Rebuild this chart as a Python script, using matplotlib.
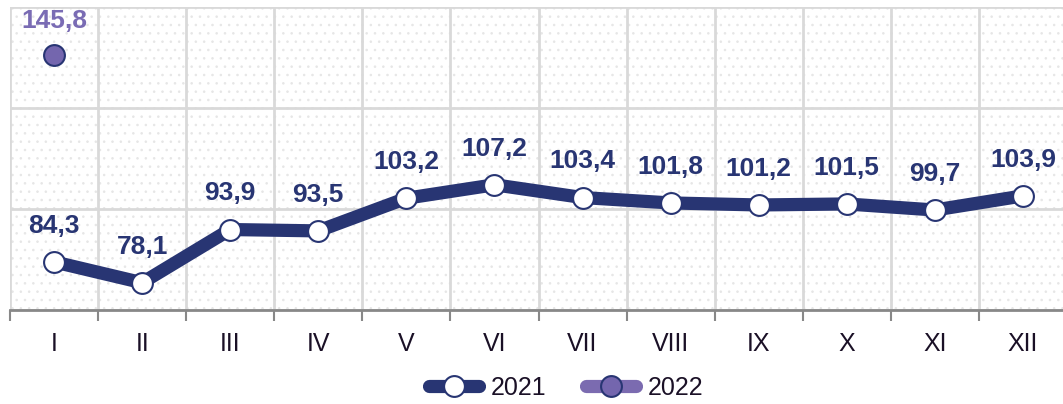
import matplotlib
matplotlib.use("Agg")
import matplotlib.pyplot as plt
from matplotlib.patches import Rectangle
from matplotlib.lines import Line2D
import numpy as np

months = ["I", "II", "III", "IV", "V", "VI", "VII", "VIII", "IX", "X", "XI", "XII"]
values_2021 = [84.3, 78.1, 93.9, 93.5, 103.2, 107.2, 103.4, 101.8, 101.2, 101.5, 99.7, 103.9]
months_2022 = ["I"]
values_2022 = [145.8]
labels_2021 = ["84,3", "78,1", "93,9", "93,5", "103,2", "107,2", "103,4", "101,8", "101,2", "101,5", "99,7", "103,9"]
labels_2022 = ["145,8"]

navy = "#283573"
purple_line = "#7B6BB0"
purple_fill = "#7466AE"
purple_text = "#7A6CB4"

plt.rcParams['font.family'] = ['Liberation Sans', 'DejaVu Sans']
plt.rcParams['hatch.linewidth'] = 0.6

W, H = 1063, 404
fig = plt.figure(figsize=(W / 100, H / 100), dpi=100)
ax = fig.add_axes([10 / W, (H - 310) / H, 1057 / W, 303 / H])

x = np.arange(len(months))
x22 = [months.index(m) for m in months_2022]

ax.set_xlim(-0.5, len(months) - 0.5)
ax.set_ylim(70, 160)

# dotted background
bg = Rectangle((0, 0), 1, 1, transform=ax.transAxes, facecolor="white",
               edgecolor="#e6e6e6", hatch="..", linewidth=0, zorder=0)
ax.add_patch(bg)

ax.set_yticks([70, 100, 130, 160])
ax.set_yticklabels([])
ax.tick_params(axis="y", length=0)
ax.grid(axis="y", color="#d9d9d9", linewidth=2, zorder=1)

ax.set_xticks(x)
ax.set_xticklabels(months, fontsize=18, color="#1a1026")
ax.tick_params(axis="x", which="major", length=0, pad=16)
ax.set_xticks(np.arange(-0.5, len(months), 1.0), minor=True)
ax.tick_params(axis="x", which="minor", length=8, width=1.5, color="#888888")
ax.grid(axis="x", which="minor", color="#d9d9d9", linewidth=2, zorder=1)

for s in ["top", "right", "left"]:
    ax.spines[s].set_visible(False)
ax.spines["bottom"].set_color("#888888")
ax.spines["bottom"].set_linewidth(2)
ax.set_axisbelow(True)

ax.plot(x, values_2021, color=navy, linewidth=9.5, marker="o", markersize=15,
        markerfacecolor="white", markeredgecolor=navy, markeredgewidth=1.5,
        zorder=3, solid_joinstyle="miter", clip_on=False)
ax.plot(x22, values_2022, color=purple_line, linewidth=9.5, marker="o", markersize=15,
        markerfacecolor=purple_fill, markeredgecolor=navy, markeredgewidth=1.5,
        zorder=4, linestyle="none", clip_on=False)

for xi, v, lab in zip(x, values_2021, labels_2021):
    ax.annotate(lab, (xi, v), xytext=(0, 26), textcoords="offset points",
                ha="center", va="center", fontsize=19, fontweight="bold",
                color=navy, zorder=5)
for xi, v, lab in zip(x22, values_2022, labels_2022):
    ax.annotate(lab, (xi, v), xytext=(0, 24), textcoords="offset points",
                ha="center", va="center", fontsize=19, fontweight="bold",
                color=purple_text, zorder=5)

h1 = Line2D([], [], color=navy, linewidth=9.5, marker="o", markersize=15,
            markerfacecolor="white", markeredgecolor=navy, markeredgewidth=1.5,
            solid_capstyle="round")
h2 = Line2D([], [], color=purple_line, linewidth=9.5, marker="o", markersize=15,
            markerfacecolor=purple_fill, markeredgecolor=navy, markeredgewidth=1.5,
            solid_capstyle="round")
fig.legend([h1, h2], ["2021", "2022"], loc="center",
           bbox_to_anchor=(566 / W, 1 - 388 / H), ncol=2, frameon=False,
           fontsize=18, handlelength=2.0, handletextpad=0.45, columnspacing=1.6,
           labelcolor="#1a1026")

fig.savefig("out.png", dpi=100)
